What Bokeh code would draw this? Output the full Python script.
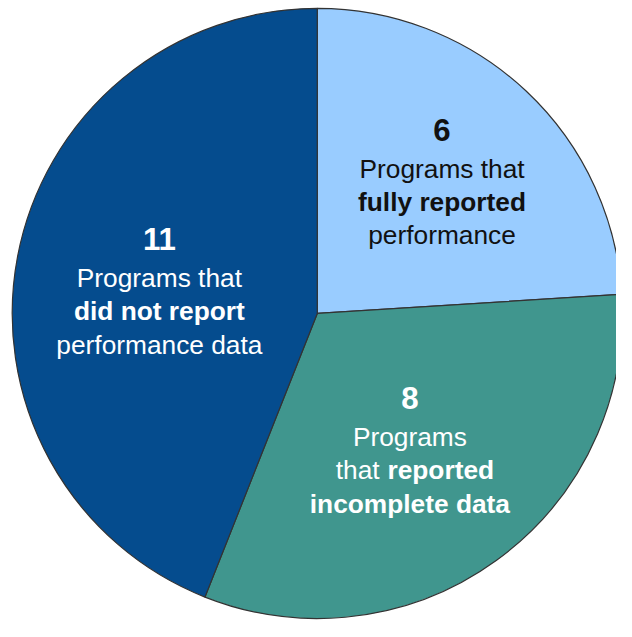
from math import pi
from bokeh.plotting import figure
from bokeh.models import Range1d
from bokeh.core.properties import value
from bokeh.embed import file_html
from bokeh.resources import INLINE

# ---- data ----
categories = ["fully reported performance", "reported incomplete data", "did not report performance data"]
counts = [6, 8, 11]
colors = ["#99CCFF", "#40968E", "#054C8E"]
text_colors = ["#111111", "#FFFFFF", "#FFFFFF"]
# label lines: (text, bold); None = mixed line "normal|bold"
label_lines = [
    [("Programs that", False), ("fully reported", True), ("performance", False)],
    [("Programs", False), ("that |reported", None), ("incomplete data", True)],
    [("Programs that", False), ("did not report", True), ("performance data", False)],
]

# ---- layout: data coordinates = reference image pixels ----
W, H = 616, 621
REF_W, REF_H = 632, 637
S = W / REF_W
FONT = value("Liberation Sans")

def Y(ypix):
    return REF_H - ypix

def px(n):
    return f"{n * S:.1f}px"

p = figure(width=W, height=H, output_backend="svg", toolbar_location=None,
           x_range=Range1d(0, REF_W), y_range=Range1d(0, REF_H),
           min_border=0, outline_line_color=None, background_fill_color="white",
           border_fill_color="white")
p.axis.visible = False
p.grid.visible = False

cx, cy, r = 325, 321, 313
total = sum(counts)
cum = 0
starts, ends = [], []
for c in counts:
    a0 = pi / 2 - 2 * pi * cum / total
    cum += c
    a1 = pi / 2 - 2 * pi * cum / total
    starts.append(a1)
    ends.append(a0)

p.wedge(x=[cx] * 3, y=[Y(cy)] * 3, radius=r, start_angle=starts, end_angle=ends,
        fill_color=colors, line_color="#333333", line_width=1.2)

anchors = [(453, 133), (420, 408), (163, 245)]
offsets = [40, 74, 108]

for i, (ax, ay) in enumerate(anchors):
    p.text(x=[ax], y=[Y(ay)], text=[str(counts[i])], text_font=FONT,
           text_font_size=px(32), text_font_style="bold", text_align="center",
           text_baseline="alphabetic", text_color=text_colors[i])
    for (txt, bold), off in zip(label_lines[i], offsets):
        yy = Y(ay + off)
        if bold is None:
            left, right = txt.split("|")
            p.text(x=[ax - 31], y=[yy], text=[left.strip()], text_font=FONT,
                   text_font_size=px(27), text_font_style="normal", text_align="right",
                   text_baseline="alphabetic", text_color=text_colors[i])
            p.text(x=[ax - 23], y=[yy], text=[right], text_font=FONT,
                   text_font_size=px(27), text_font_style="bold", text_align="left",
                   text_baseline="alphabetic", text_color=text_colors[i])
        else:
            p.text(x=[ax], y=[yy], text=[txt], text_font=FONT,
                   text_font_size=px(27), text_font_style="bold" if bold else "normal",
                   text_align="center", text_baseline="alphabetic",
                   text_color=text_colors[i])

open("out.html", "w").write(file_html(p, INLINE))
